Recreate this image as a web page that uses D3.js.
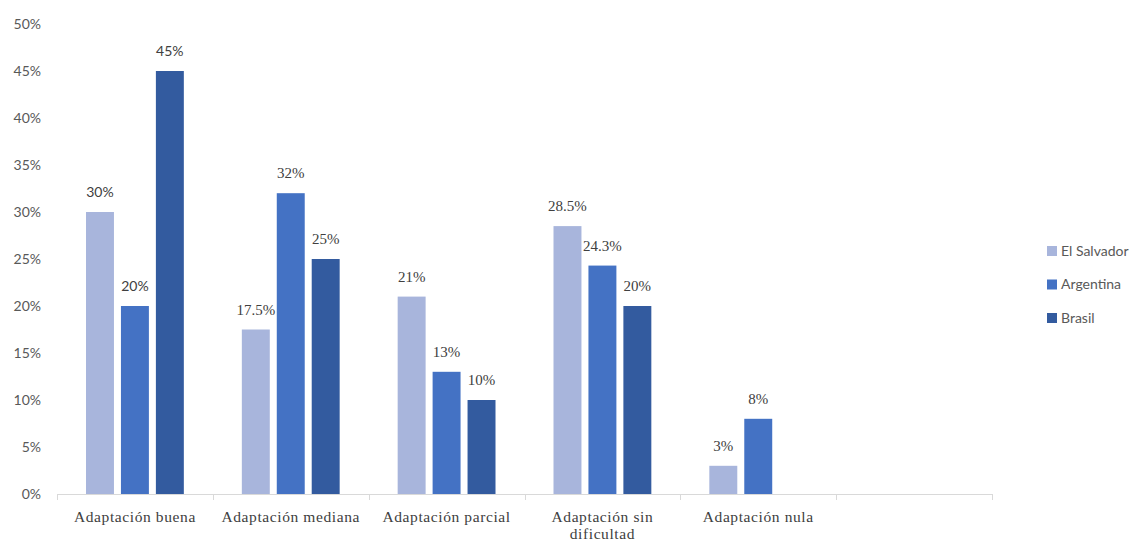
<!DOCTYPE html>
<html>
<head>
<meta charset="utf-8">
<script src="https://cdn.jsdelivr.net/npm/d3@7"></script>
<style>
  body { margin: 0; background: #fff; }
</style>
</head>
<body>
<div id="chart"></div>
<script>
// categories (last slot is empty, as in the original)
var categories = ['Adaptación buena', 'Adaptación mediana', 'Adaptación parcial', 'Adaptación sin dificultad', 'Adaptación nula', '']
var series = ['El Salvador', 'Argentina', 'Brasil']
var elSalvador = [30, 17.5, 21, 28.5, 3, null]
var argentina = [20, 32, 13, 24.3, 8, null]
var brasil = [45, 25, 10, 20, null, null]
var yTicks = [0, 5, 10, 15, 20, 25, 30, 35, 40, 45, 50]
var colors = ['#a8b5dc', '#4472c4', '#335b9f']

var SERIF = "'Liberation Serif', 'Times New Roman', serif"
var SANS = "Lato, 'Open Sans', sans-serif"

var width = 1137
var height = 542

var svg = d3.select('#chart')
  .append('svg')
  .attr('width', width)
  .attr('height', height)

var x0 = d3.scaleBand()
  .domain(d3.range(categories.length))
  .range([57, 992])
  .padding(0)

var x1 = d3.scaleBand()
  .domain(series)
  .range([29, x0.bandwidth() - 29])
  .paddingInner(0.2)

var y = d3.scaleLinear()
  .domain([0, 50])
  .range([494, 24])

var color = d3.scaleOrdinal().domain(series).range(colors)

// y tick labels
svg.selectAll('.y-label')
  .data(yTicks)
  .enter()
  .append('text')
  .attr('class', 'y-label')
  .attr('x', 41)
  .attr('y', d => y(d))
  .attr('dy', '0.35em')
  .attr('text-anchor', 'end')
  .style('font-family', SANS)
  .style('font-size', '14px')
  .attr('fill', '#595959')
  .text(d => d + '%')

// bars
var rows = []
categories.forEach((c, i) => {
  var vals = [elSalvador[i], argentina[i], brasil[i]]
  vals.forEach((v, j) => {
    if (v !== null) rows.push({cat: i, name: series[j], value: v})
  })
})

svg.selectAll('.bar')
  .data(rows)
  .enter()
  .append('rect')
  .attr('class', 'bar')
  .attr('x', d => x0(d.cat) + x1(d.name))
  .attr('width', x1.bandwidth())
  .attr('y', d => y(d.value))
  .attr('height', d => y(0) - y(d.value))
  .attr('fill', d => color(d.name))

// first group labels are sans, the rest serif (as in the picture)
svg.selectAll('.value-label')
  .data(rows)
  .enter()
  .append('text')
  .attr('class', 'value-label')
  .attr('x', d => x0(d.cat) + x1(d.name) + x1.bandwidth() / 2)
  .attr('y', d => y(d.value) - 15)
  .attr('text-anchor', 'middle')
  .style('font-family', d => d.cat === 0 ? SANS : SERIF)
  .style('font-size', d => d.cat === 0 ? '14px' : '15px')
  .attr('fill', '#404040')
  .text(d => d.value + '%')

// x axis line and ticks
svg.append('line')
  .attr('x1', x0.range()[0])
  .attr('x2', x0.range()[1])
  .attr('y1', y(0) + 0.5)
  .attr('y2', y(0) + 0.5)
  .attr('stroke', '#d9d9d9')
  .attr('stroke-width', 1)

var bounds = d3.range(categories.length + 1).map(i => x0.range()[0] + i * x0.step())
svg.selectAll('.x-tick')
  .data(bounds)
  .enter()
  .append('line')
  .attr('class', 'x-tick')
  .attr('x1', d => Math.round(d) + 0.5)
  .attr('x2', d => Math.round(d) + 0.5)
  .attr('y1', y(0))
  .attr('y2', y(0) + 6)
  .attr('stroke', '#d9d9d9')

// category labels, wrapped like the original
var wrapped = {
  'Adaptación sin dificultad': ['Adaptación sin', 'dificultad']
}
categories.forEach((c, i) => {
  if (!c) return
  var lines = wrapped[c] || [c]
  var t = svg.append('text')
    .attr('x', x0(i) + x0.bandwidth() / 2)
    .attr('y', 522)
    .attr('text-anchor', 'middle')
    .style('font-family', SERIF)
    .style('font-size', '15.5px')
    .style('letter-spacing', '0.6px')
    .attr('fill', '#404040')
  lines.forEach((l, k) => {
    t.append('tspan')
      .attr('x', x0(i) + x0.bandwidth() / 2)
      .attr('dy', k === 0 ? 0 : 17)
      .text(l)
  })
})

// legend
var legend = svg.selectAll('.legend-entry')
  .data(series)
  .enter()
  .append('g')
  .attr('class', 'legend-entry')
  .attr('transform', (d, i) => 'translate(1047,' + (251 + i * 33.5) + ')')

legend.append('rect')
  .attr('x', 0)
  .attr('y', -5)
  .attr('width', 10)
  .attr('height', 10)
  .attr('fill', d => color(d))

legend.append('text')
  .attr('x', 14)
  .attr('y', 0)
  .attr('dy', '0.35em')
  .style('font-family', SANS)
  .style('font-size', '14px')
  .attr('fill', '#595959')
  .text(d => d)
</script>
</body>
</html>
